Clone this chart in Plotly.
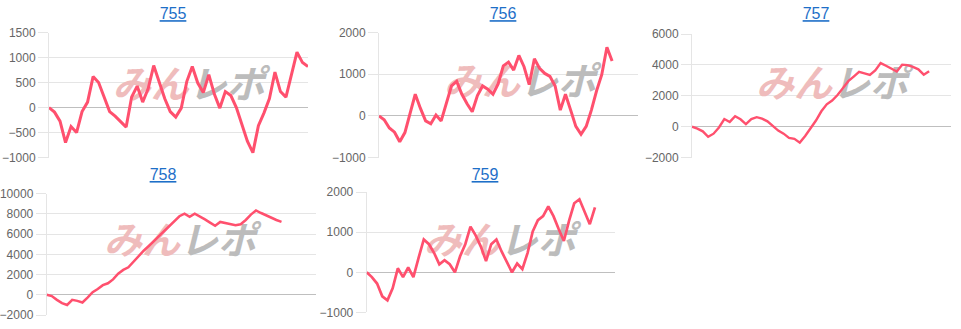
import plotly.graph_objects as go

# ---------------- data ----------------
titles = ["755", "756", "757", "758", "759"]

s755 = [0, -90, -270, -700, -380, -500, -80, 110, 620, 500,
        210, -80, -170, -270, -390, 210, 430, 110, 380, 840,
        520, 180, -80, -190, -10, 520, 820, 490, 300, 660,
        270, -10, 320, 240, 0, -360, -670, -900, -360, -110,
        180, 710, 320, 210, 680, 1110, 900, 820]
s756 = [0, -90, -290, -390, -620, -400, 60, 520, 180, -120,
        -190, 20, -120, 290, 720, 830, 520, 290, 100, 490,
        720, 640, 520, 770, 1200, 1290, 1100, 1450, 1180, 750,
        1370, 1140, 1020, 950, 720, 140, 520, 140, -250, -440,
        -250, 140, 600, 990, 1650, 1320]
s757 = [0, -120, -300, -650, -450, -50, 500, 310, 680, 480,
        170, 500, 620, 520, 350, 80, -250, -450, -720, -780,
        -1030, -600, -100, 400, 1000, 1450, 1700, 2050, 2500, 2950,
        3250, 3550, 3450, 3350, 3650, 4120, 3950, 3750, 3580, 4020,
        3990, 3880, 3720, 3370, 3600]
s758 = [0, -130, -500, -820, -1010, -500, -600, -760, -280, 250,
        570, 950, 1140, 1520, 2090, 2460, 2720, 3290, 3820, 4360,
        4830, 5310, 5780, 6260, 6730, 7240, 7770, 8030, 7710, 8030,
        7770, 7460, 7140, 6830, 7210, 7080, 6980, 6890, 6980, 7400,
        7930, 8340, 8090, 7840, 7620, 7400, 7210]
s759 = [0, -120, -280, -600, -700, -400, 100, -120, 120, -120,
        360, 820, 700, 480, 200, 300, 200, 0, 400, 700,
        1140, 920, 640, 280, 700, 820, 520, 260, 0, 220,
        80, 480, 1020, 1300, 1400, 1640, 1400, 1080, 780, 1280,
        1720, 1820, 1520, 1200, 1620]

series = [s755, s756, s757, s758, s759]
y_ranges = [(-1000, 1500), (-1000, 2000), (-2000, 6000), (-2000, 10000), (-1000, 2000)]
y_steps = [500, 1000, 2000, 2000, 1000]
watermark_left = "みん"
watermark_right = "レポ"

# ---------------- layout config ----------------
W, H = 961, 329
boxes = [(49, 308, 26.7, 157.3), (379, 638, 26.7, 157.3), (692, 950.7, 28.3, 157.3),
         (46.7, 315.7, 195, 321.7), (366.7, 614.7, 193.3, 319)]
x_spans = [47, 50, 48, 52.7, 47.8]
title_mid = [(173, 8.5), (503, 8.5), (816, 8.5), (163, 176.5), (485, 176.5)]
wm_frac = [(0.54, 0.554), (0.544, 0.573), (0.541, 0.566), (0.496, 0.582), (0.537, 0.563)]
line_widths = [3, 3, 2.4, 2.5, 2.7]
LINE = "rgb(255, 80, 110)"
GRID = "rgba(0,0,0,0.1)"
ZERO = "rgba(0,0,0,0.25)"
TITLE_BLUE = "#1e6fc8"
FONT = "Arial, Liberation Sans, sans-serif"

fig = go.Figure()
layout = dict(width=W, height=H, margin=dict(l=0, r=0, t=0, b=0),
              paper_bgcolor="white", plot_bgcolor="rgba(0,0,0,0)", showlegend=False)

wm_text = ('<b><span style="color:#efbcbc">' + watermark_left + '</span>'
           '<span style="color:#bcbcbc">' + watermark_right + '</span></b>')

for i, (s, yr, st, box, xs, wf, lw) in enumerate(
        zip(series, y_ranges, y_steps, boxes, x_spans, wm_frac, line_widths)):
    sfx = "" if i == 0 else str(i + 1)
    xref, yref = "x" + sfx, "y" + sfx
    l, r, t, b = box
    layout["xaxis" + sfx] = dict(domain=[l / W, r / W], range=[0, xs], anchor=yref,
                                 showgrid=False, zeroline=False, showticklabels=False,
                                 showline=False, ticks="", fixedrange=True)
    layout["yaxis" + sfx] = dict(domain=[1 - b / H, 1 - t / H], range=list(yr), anchor=xref,
                                 tick0=yr[0], dtick=st, tickformat="d",
                                 showgrid=True, gridcolor=GRID, gridwidth=1,
                                 zeroline=True, zerolinecolor=ZERO, zerolinewidth=1,
                                 showline=True, linecolor=GRID, linewidth=1,
                                 ticks="outside", ticklen=10, tickcolor=GRID, tickwidth=1,
                                 tickfont=dict(family=FONT, size=12, color="#666666"),
                                 fixedrange=True)
    # watermark (behind the line)
    wx = xs * wf[0]
    wy = yr[0] + (yr[1] - yr[0]) * wf[1]
    fig.add_trace(go.Scatter(x=[wx], y=[wy], mode="text", text=[wm_text],
                             textposition="middle center",
                             textfont=dict(family="Noto Sans CJK JP", size=38,
                                           weight=900, style="italic"),
                             hoverinfo="skip", xaxis=xref, yaxis=yref))
    fig.add_trace(go.Scatter(x=list(range(len(s))), y=s, mode="lines",
                             line=dict(color=LINE, width=lw),
                             hoverinfo="skip", xaxis=xref, yaxis=yref))

# titles: text trace on an overlay axis covering the whole page (pixel units)
layout["xaxis6"] = dict(domain=[0, 1], range=[0, W], visible=False, fixedrange=True, anchor="y6")
layout["yaxis6"] = dict(domain=[0, 1], range=[H, 0], visible=False, fixedrange=True, anchor="x6")
fig.add_trace(go.Scatter(x=[p[0] for p in title_mid], y=[p[1] for p in title_mid],
                         mode="text", text=titles, textposition="middle center",
                         cliponaxis=False,
                         textfont=dict(family=FONT, size=16, color=TITLE_BLUE, lineposition="under"),
                         hoverinfo="skip", xaxis="x6", yaxis="y6"))

fig.update_layout(**layout)
fig.write_html("out.html")
